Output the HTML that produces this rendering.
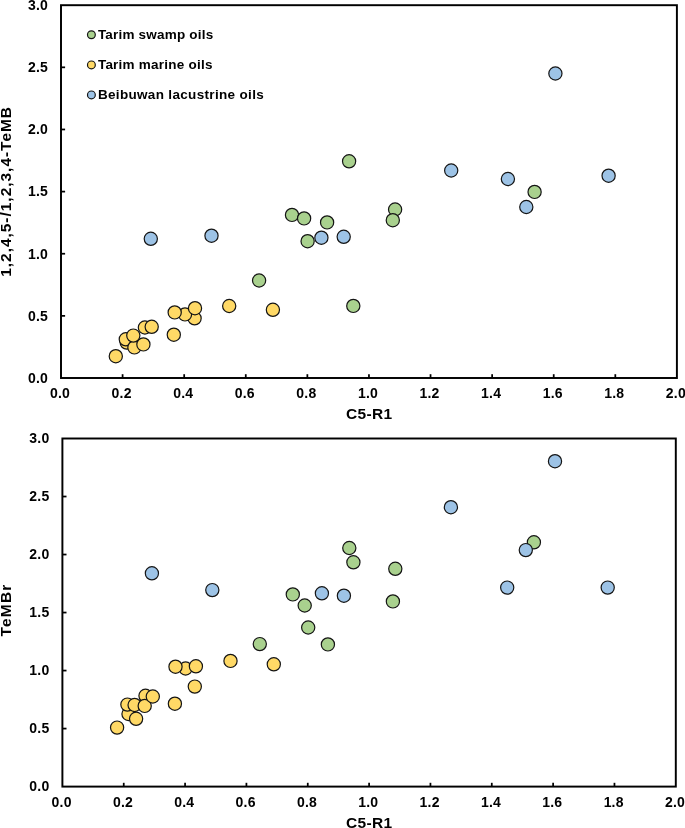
<!DOCTYPE html>
<html><head><meta charset="utf-8"><title>chart</title>
<style>
html,body{margin:0;padding:0;background:#fff;}
body{width:685px;height:828px;overflow:hidden;}
svg{display:block;will-change:transform;}
text{font-family:"Liberation Sans",sans-serif;font-weight:bold;fill:#000;}
.tl{font-size:14px;letter-spacing:0.2px;}
.lg{font-size:13.5px;letter-spacing:0.25px;}
.tt{font-size:15.5px;letter-spacing:0.3px;}
.ax{stroke:#000;stroke-width:1.95;fill:none;}
.tk{stroke:#000;stroke-width:1.75;fill:none;}
circle{stroke:#141414;stroke-width:1.2;}
</style></head><body>
<svg width="685" height="828" viewBox="0 0 685 828">
<rect x="0" y="0" width="685" height="828" fill="#fff"/>

<rect class="ax" x="61.00" y="5.20" width="615.90" height="372.80"/>
<line class="tk" x1="61.00" y1="315.87" x2="65.10" y2="315.87"/>
<line class="tk" x1="61.00" y1="253.73" x2="65.10" y2="253.73"/>
<line class="tk" x1="61.00" y1="191.60" x2="65.10" y2="191.60"/>
<line class="tk" x1="61.00" y1="129.47" x2="65.10" y2="129.47"/>
<line class="tk" x1="61.00" y1="67.33" x2="65.10" y2="67.33"/>
<line class="tk" x1="122.59" y1="378.00" x2="122.59" y2="374.20"/>
<line class="tk" x1="184.18" y1="378.00" x2="184.18" y2="374.20"/>
<line class="tk" x1="245.77" y1="378.00" x2="245.77" y2="374.20"/>
<line class="tk" x1="307.36" y1="378.00" x2="307.36" y2="374.20"/>
<line class="tk" x1="368.95" y1="378.00" x2="368.95" y2="374.20"/>
<line class="tk" x1="430.54" y1="378.00" x2="430.54" y2="374.20"/>
<line class="tk" x1="492.13" y1="378.00" x2="492.13" y2="374.20"/>
<line class="tk" x1="553.72" y1="378.00" x2="553.72" y2="374.20"/>
<line class="tk" x1="615.31" y1="378.00" x2="615.31" y2="374.20"/>
<text class="tl" text-anchor="end" transform="translate(48.00,382.80) scale(1,1.0)">0.0</text>
<text class="tl" text-anchor="end" transform="translate(48.00,320.67) scale(1,1.0)">0.5</text>
<text class="tl" text-anchor="end" transform="translate(48.00,258.53) scale(1,1.0)">1.0</text>
<text class="tl" text-anchor="end" transform="translate(48.00,196.40) scale(1,1.0)">1.5</text>
<text class="tl" text-anchor="end" transform="translate(48.00,134.27) scale(1,1.0)">2.0</text>
<text class="tl" text-anchor="end" transform="translate(48.00,72.13) scale(1,1.0)">2.5</text>
<text class="tl" text-anchor="end" transform="translate(48.00,10.00) scale(1,1.0)">3.0</text>
<text class="tl" text-anchor="middle" transform="translate(60.00,397.90) scale(1,1.0)">0.0</text>
<text class="tl" text-anchor="middle" transform="translate(121.59,397.90) scale(1,1.0)">0.2</text>
<text class="tl" text-anchor="middle" transform="translate(183.18,397.90) scale(1,1.0)">0.4</text>
<text class="tl" text-anchor="middle" transform="translate(244.77,397.90) scale(1,1.0)">0.6</text>
<text class="tl" text-anchor="middle" transform="translate(306.36,397.90) scale(1,1.0)">0.8</text>
<text class="tl" text-anchor="middle" transform="translate(367.95,397.90) scale(1,1.0)">1.0</text>
<text class="tl" text-anchor="middle" transform="translate(429.54,397.90) scale(1,1.0)">1.2</text>
<text class="tl" text-anchor="middle" transform="translate(491.13,397.90) scale(1,1.0)">1.4</text>
<text class="tl" text-anchor="middle" transform="translate(552.72,397.90) scale(1,1.0)">1.6</text>
<text class="tl" text-anchor="middle" transform="translate(614.31,397.90) scale(1,1.0)">1.8</text>
<text class="tl" text-anchor="middle" transform="translate(675.90,397.90) scale(1,1.0)">2.0</text>
<circle cx="292.0" cy="214.9" r="6.6" fill="#A9D18E"/>
<circle cx="304.1" cy="218.4" r="6.6" fill="#A9D18E"/>
<circle cx="327.1" cy="222.4" r="6.6" fill="#A9D18E"/>
<circle cx="307.6" cy="241.2" r="6.6" fill="#A9D18E"/>
<circle cx="259.1" cy="280.5" r="6.6" fill="#A9D18E"/>
<circle cx="395.1" cy="209.5" r="6.6" fill="#A9D18E"/>
<circle cx="392.8" cy="220.2" r="6.6" fill="#A9D18E"/>
<circle cx="349.1" cy="161.3" r="6.6" fill="#A9D18E"/>
<circle cx="353.3" cy="305.9" r="6.6" fill="#A9D18E"/>
<circle cx="534.6" cy="191.9" r="6.6" fill="#A9D18E"/>
<circle cx="115.8" cy="356.2" r="6.6" fill="#FFD966"/>
<circle cx="126.7" cy="342.6" r="6.6" fill="#FFD966"/>
<circle cx="125.8" cy="339.3" r="6.6" fill="#FFD966"/>
<circle cx="134.4" cy="347.4" r="6.6" fill="#FFD966"/>
<circle cx="133.3" cy="335.6" r="6.6" fill="#FFD966"/>
<circle cx="143.4" cy="344.4" r="6.6" fill="#FFD966"/>
<circle cx="144.9" cy="327.5" r="6.6" fill="#FFD966"/>
<circle cx="151.7" cy="326.8" r="6.6" fill="#FFD966"/>
<circle cx="173.8" cy="334.7" r="6.6" fill="#FFD966"/>
<circle cx="194.6" cy="318.3" r="6.6" fill="#FFD966"/>
<circle cx="185.0" cy="314.4" r="6.6" fill="#FFD966"/>
<circle cx="174.7" cy="312.4" r="6.6" fill="#FFD966"/>
<circle cx="195.0" cy="308.2" r="6.6" fill="#FFD966"/>
<circle cx="229.2" cy="306.0" r="6.6" fill="#FFD966"/>
<circle cx="272.9" cy="309.8" r="6.6" fill="#FFD966"/>
<circle cx="150.8" cy="238.8" r="6.6" fill="#9DC3E6"/>
<circle cx="211.5" cy="235.7" r="6.6" fill="#9DC3E6"/>
<circle cx="321.4" cy="237.7" r="6.6" fill="#9DC3E6"/>
<circle cx="343.7" cy="236.8" r="6.6" fill="#9DC3E6"/>
<circle cx="451.2" cy="170.5" r="6.6" fill="#9DC3E6"/>
<circle cx="555.4" cy="73.5" r="6.6" fill="#9DC3E6"/>
<circle cx="507.9" cy="179.0" r="6.6" fill="#9DC3E6"/>
<circle cx="526.3" cy="207.0" r="6.6" fill="#9DC3E6"/>
<circle cx="608.6" cy="175.7" r="6.6" fill="#9DC3E6"/>
<rect class="ax" x="62.40" y="438.50" width="613.40" height="348.10"/>
<line class="tk" x1="62.40" y1="728.58" x2="66.50" y2="728.58"/>
<line class="tk" x1="62.40" y1="670.57" x2="66.50" y2="670.57"/>
<line class="tk" x1="62.40" y1="612.55" x2="66.50" y2="612.55"/>
<line class="tk" x1="62.40" y1="554.53" x2="66.50" y2="554.53"/>
<line class="tk" x1="62.40" y1="496.52" x2="66.50" y2="496.52"/>
<line class="tk" x1="123.74" y1="786.60" x2="123.74" y2="782.80"/>
<line class="tk" x1="185.08" y1="786.60" x2="185.08" y2="782.80"/>
<line class="tk" x1="246.42" y1="786.60" x2="246.42" y2="782.80"/>
<line class="tk" x1="307.76" y1="786.60" x2="307.76" y2="782.80"/>
<line class="tk" x1="369.10" y1="786.60" x2="369.10" y2="782.80"/>
<line class="tk" x1="430.44" y1="786.60" x2="430.44" y2="782.80"/>
<line class="tk" x1="491.78" y1="786.60" x2="491.78" y2="782.80"/>
<line class="tk" x1="553.12" y1="786.60" x2="553.12" y2="782.80"/>
<line class="tk" x1="614.46" y1="786.60" x2="614.46" y2="782.80"/>
<text class="tl" text-anchor="end" transform="translate(49.40,790.70) scale(1,1.0)">0.0</text>
<text class="tl" text-anchor="end" transform="translate(49.40,732.68) scale(1,1.0)">0.5</text>
<text class="tl" text-anchor="end" transform="translate(49.40,674.67) scale(1,1.0)">1.0</text>
<text class="tl" text-anchor="end" transform="translate(49.40,616.65) scale(1,1.0)">1.5</text>
<text class="tl" text-anchor="end" transform="translate(49.40,558.63) scale(1,1.0)">2.0</text>
<text class="tl" text-anchor="end" transform="translate(49.40,500.62) scale(1,1.0)">2.5</text>
<text class="tl" text-anchor="end" transform="translate(49.40,442.60) scale(1,1.0)">3.0</text>
<text class="tl" text-anchor="middle" transform="translate(61.60,806.50) scale(1,1.0)">0.0</text>
<text class="tl" text-anchor="middle" transform="translate(122.94,806.50) scale(1,1.0)">0.2</text>
<text class="tl" text-anchor="middle" transform="translate(184.28,806.50) scale(1,1.0)">0.4</text>
<text class="tl" text-anchor="middle" transform="translate(245.62,806.50) scale(1,1.0)">0.6</text>
<text class="tl" text-anchor="middle" transform="translate(306.96,806.50) scale(1,1.0)">0.8</text>
<text class="tl" text-anchor="middle" transform="translate(368.30,806.50) scale(1,1.0)">1.0</text>
<text class="tl" text-anchor="middle" transform="translate(429.64,806.50) scale(1,1.0)">1.2</text>
<text class="tl" text-anchor="middle" transform="translate(490.98,806.50) scale(1,1.0)">1.4</text>
<text class="tl" text-anchor="middle" transform="translate(552.32,806.50) scale(1,1.0)">1.6</text>
<text class="tl" text-anchor="middle" transform="translate(613.66,806.50) scale(1,1.0)">1.8</text>
<text class="tl" text-anchor="middle" transform="translate(675.00,806.50) scale(1,1.0)">2.0</text>
<circle cx="292.8" cy="594.4" r="6.6" fill="#A9D18E"/>
<circle cx="304.7" cy="605.5" r="6.6" fill="#A9D18E"/>
<circle cx="308.2" cy="627.5" r="6.6" fill="#A9D18E"/>
<circle cx="259.8" cy="644.1" r="6.6" fill="#A9D18E"/>
<circle cx="327.9" cy="644.4" r="6.6" fill="#A9D18E"/>
<circle cx="353.4" cy="562.3" r="6.6" fill="#A9D18E"/>
<circle cx="349.3" cy="548.0" r="6.6" fill="#A9D18E"/>
<circle cx="395.3" cy="568.8" r="6.6" fill="#A9D18E"/>
<circle cx="392.9" cy="601.4" r="6.6" fill="#A9D18E"/>
<circle cx="533.9" cy="542.3" r="6.6" fill="#A9D18E"/>
<circle cx="117.1" cy="727.6" r="6.6" fill="#FFD966"/>
<circle cx="128.5" cy="714.0" r="6.6" fill="#FFD966"/>
<circle cx="127.4" cy="704.6" r="6.6" fill="#FFD966"/>
<circle cx="134.6" cy="705.0" r="6.6" fill="#FFD966"/>
<circle cx="136.1" cy="718.8" r="6.6" fill="#FFD966"/>
<circle cx="145.5" cy="695.8" r="6.6" fill="#FFD966"/>
<circle cx="144.7" cy="705.9" r="6.6" fill="#FFD966"/>
<circle cx="152.8" cy="696.5" r="6.6" fill="#FFD966"/>
<circle cx="174.9" cy="703.7" r="6.6" fill="#FFD966"/>
<circle cx="185.6" cy="668.5" r="6.6" fill="#FFD966"/>
<circle cx="175.5" cy="666.7" r="6.6" fill="#FFD966"/>
<circle cx="195.9" cy="666.3" r="6.6" fill="#FFD966"/>
<circle cx="194.8" cy="686.6" r="6.6" fill="#FFD966"/>
<circle cx="230.5" cy="660.9" r="6.6" fill="#FFD966"/>
<circle cx="273.8" cy="664.3" r="6.6" fill="#FFD966"/>
<circle cx="151.9" cy="573.3" r="6.6" fill="#9DC3E6"/>
<circle cx="212.3" cy="590.1" r="6.6" fill="#9DC3E6"/>
<circle cx="321.9" cy="593.3" r="6.6" fill="#9DC3E6"/>
<circle cx="343.9" cy="595.7" r="6.6" fill="#9DC3E6"/>
<circle cx="450.9" cy="507.2" r="6.6" fill="#9DC3E6"/>
<circle cx="555.0" cy="461.2" r="6.6" fill="#9DC3E6"/>
<circle cx="525.8" cy="550.1" r="6.6" fill="#9DC3E6"/>
<circle cx="507.2" cy="587.6" r="6.6" fill="#9DC3E6"/>
<circle cx="607.7" cy="587.6" r="6.6" fill="#9DC3E6"/>
<circle cx="91.4" cy="34.8" r="3.9" fill="#A9D18E"/>
<text class="lg" style="letter-spacing:0.2px" x="97.9" y="39.2">Tarim swamp oils</text>
<circle cx="91.4" cy="64.9" r="3.9" fill="#FFD966"/>
<text class="lg" style="letter-spacing:0.24px" x="97.9" y="69.3">Tarim marine oils</text>
<circle cx="91.4" cy="94.9" r="3.9" fill="#9DC3E6"/>
<text class="lg" style="letter-spacing:0.33px" x="97.9" y="99.3">Beibuwan lacustrine oils</text>
<text class="tt" text-anchor="middle" x="369.2" y="419.0">C5-R1</text>
<text class="tt" text-anchor="middle" x="369.2" y="828.2">C5-R1</text>
<text class="tt" style="letter-spacing:0.97px" text-anchor="middle" transform="translate(11.4,191.4) rotate(-90)">1,2,4,5-/1,2,3,4-TeMB</text>
<text class="tt" style="letter-spacing:1.18px" text-anchor="middle" transform="translate(11.4,610.0) rotate(-90)">TeMBr</text>
</svg></body></html>
